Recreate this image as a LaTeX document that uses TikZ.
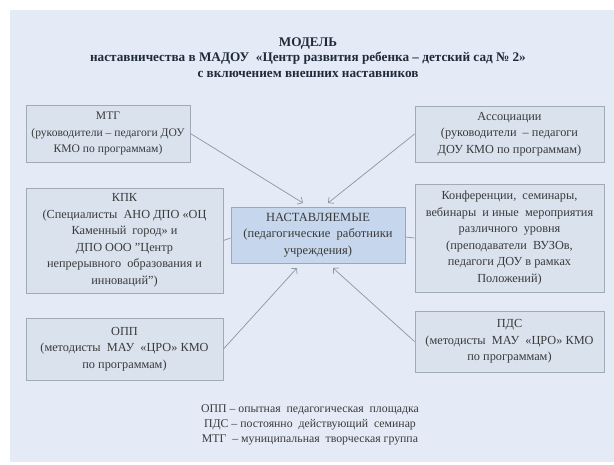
\documentclass[tikz,border=0pt]{standalone}
\usepackage{fontspec}
\setmainfont{Liberation Serif}
\usetikzlibrary{arrows.meta}
\definecolor{panel}{HTML}{E4EAF6}
\definecolor{boxfill}{HTML}{DAE2EE}
\definecolor{boxline}{HTML}{A0AAB8}
\definecolor{cfill}{HTML}{C6D6EC}
\definecolor{cline}{HTML}{93A9C8}
\definecolor{txt}{HTML}{3A3A3A}
\definecolor{ttl}{HTML}{1F2A3A}
\definecolor{arr}{HTML}{8A96AA}
\tikzset{
  srcbox/.style={draw=boxline, line width=0.9pt, fill=boxfill, align=center, text=txt,
    font=\fontsize{12.3}{16.5}\selectfont, inner sep=2pt},
  centerbox/.style={draw=cline, line width=0.9pt, fill=cfill, align=center, text=txt,
    font=\fontsize{12.5}{16.5}\selectfont, inner sep=2pt},
  conn/.style={draw=arr, line width=0.7pt},
  arrowconn/.style={conn, -{Straight Barb[length=4pt,width=8pt]}},
}
\begin{document}
\begin{tikzpicture}[x=1pt,y=-1pt]
\useasboundingbox (0,0) rectangle (614,465);
\fill[white] (0,0) rectangle (614,465);
\fill[panel] (10,10) rectangle (614,462);

\node[font=\bfseries\fontsize{13.2}{15.5}\selectfont, text=ttl, align=center] (title) at (308,57.5)
  {МОДЕЛЬ\\наставничества в МАДОУ \ «Центр развития ребенка – детский сад № 2»\\с включением внешних наставников};

\node[srcbox, font=\fontsize{11.6}{16.5}\selectfont, minimum width=164pt, minimum height=57pt] (mtg) at (108,133.5)
  {МТГ\\(руководители – педагоги ДОУ\\КМО по программам)};
\node[srcbox, minimum width=197pt, minimum height=105pt] (kpk) at (124.5,240.5)
  {КПК\\(Специалисты \ АНО ДПО «ОЦ\\Каменный \ город» и\\ДПО ООО "Центр\\непрерывного \ образования и\\инноваций")};
\node[srcbox, minimum width=197pt, minimum height=62pt] (opp) at (124.5,349)
  {ОПП\\(методисты \ МАУ \ «ЦРО» КМО\\по программам)};
\node[srcbox, minimum width=189pt, minimum height=56pt] (ass) at (509.5,134)
  {Ассоциации\\(руководители \ – педагоги\\ДОУ КМО по программам)};
\node[srcbox, minimum width=189pt, minimum height=108pt] (konf) at (509.5,238)
  {Конференции, \ семинары,\\вебинары \ и иные \ мероприятия\\различного \ уровня\\(преподаватели \ ВУЗОв,\\педагоги ДОУ в рамках\\Положений)};
\node[srcbox, minimum width=189pt, minimum height=61pt] (pds) at (509.5,341.5)
  {ПДС\\(методисты \ МАУ \ «ЦРО» КМО\\по программам)};
\node[centerbox, minimum width=174pt, minimum height=56pt] (ctr) at (318,235)
  {НАСТАВЛЯЕМЫЕ\\(педагогические \ работники\\учреждения)};

\coordinate (t1) at (303,203);
\coordinate (t2) at (328,203);
\coordinate (t3) at (297,268);
\coordinate (t4) at (333,268);

\draw[arrowconn] (mtg.east) -- (t1);
\draw[arrowconn] (ass.west) -- (t2);
\draw[arrowconn] (opp.east) -- (t3);
\draw[arrowconn] (pds.west) -- (t4);
\draw[conn] (kpk.east) -- ([yshift=-3pt]ctr.west);
\draw[conn] ([yshift=-2pt]ctr.east) -- (konf.west);

\node[font=\fontsize{11.8}{15}\selectfont, text=txt, align=center] (legend) at (310,425)
  {ОПП – опытная \ педагогическая \ площадка\\ПДС – постоянно \ действующий \ семинар\\МТГ \ – муниципальная \ творческая группа};
\end{tikzpicture}
\end{document}
